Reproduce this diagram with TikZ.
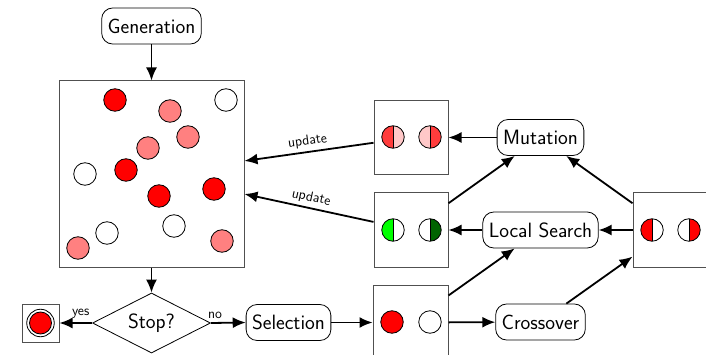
\documentclass[tikz,border=0pt]{standalone}
\usetikzlibrary{shapes.geometric,arrows.meta}
\definecolor{mred}{RGB}{255,60,60}
\definecolor{mpink}{RGB}{255,200,200}
\definecolor{ppink}{RGB}{255,128,128}
\definecolor{dgreen}{RGB}{0,100,0}
\definecolor{lgreen}{RGB}{0,255,0}
\definecolor{boxgray}{RGB}{80,80,80}
\begin{document}
\begin{tikzpicture}[x=1pt,y=-1pt,
  font=\sffamily\fontsize{20.7}{24}\selectfont,
  proc/.style={draw, rounded corners=11pt, minimum height=36pt, inner xsep=6pt, inner ysep=0pt, line width=0.8pt},
  ind/.style={circle, draw, minimum size=22.5pt, inner sep=0pt, line width=0.8pt},
  cbox/.style={draw=boxgray, minimum width=74pt, minimum height=74pt, inner sep=0pt, line width=1pt},
  arr/.style={-{Latex[length=13pt,width=11pt]}, line width=1.8pt},
  lbl/.style={font=\sffamily\fontsize{14}{16}\selectfont},
  lefthalf/.style={path picture={\fill[#1] (path picture bounding box.north west) rectangle (path picture bounding box.south);
     \draw[line width=0.8pt] (path picture bounding box.north) -- (path picture bounding box.south);}},
  righthalf/.style={path picture={\fill[#1] (path picture bounding box.north east) rectangle (path picture bounding box.south);
     \draw[line width=0.8pt] (path picture bounding box.north) -- (path picture bounding box.south);}},
  bothhalf/.style 2 args={path picture={\fill[#1] (path picture bounding box.north west) rectangle (path picture bounding box.south);
     \fill[#2] (path picture bounding box.north east) rectangle (path picture bounding box.south);
     \draw[line width=0.8pt] (path picture bounding box.north) -- (path picture bounding box.south);}}
]
\useasboundingbox (0,0) rectangle (706,355);
\clip (0,0) rectangle (706,355);

% population
\node[cbox, minimum width=185pt, minimum height=186pt] (pop) at (151.5,174) {};
\node[ind, fill=red] (p1) at (115,100) {};
\node[ind, fill=ppink] (p2) at (170,111) {};
\node[ind, fill=white] (p3) at (226,100) {};
\node[ind, fill=ppink] (p4) at (188,137) {};
\node[ind, fill=ppink] (p5) at (148,148) {};
\node[ind, fill=white] (p6) at (85,174) {};
\node[ind, fill=red] (p7) at (126,170) {};
\node[ind, fill=red] (p8) at (159,196) {};
\node[ind, fill=red] (p9) at (214,189) {};
\node[ind, fill=white] (p10) at (107,233) {};
\node[ind, fill=white] (p11) at (174,226) {};
\node[ind, fill=ppink] (p12) at (78,248) {};
\node[ind, fill=ppink] (p13) at (222,241) {};

% process nodes
\node[proc] (gen) at (151.5,26) {Generation};
\node[draw, diamond, aspect=2, minimum width=118pt, minimum height=60pt, inner sep=0pt, line width=0.8pt] (stop) at (151.5,323) {Stop?};
\node[proc] (sel) at (288.5,322.5) {Selection};
\node[proc] (mut) at (540.5,137.5) {Mutation};
\node[proc] (ls) at (540.5,230) {Local Search};
\node[proc] (cx) at (540.5,322) {Crossover};

% final result
\node[draw=boxgray, minimum width=37pt, minimum height=38pt, inner sep=0pt, line width=1pt] (fin) at (40.5,323) {};
\node[circle, draw, fill=white, minimum size=27.5pt, inner sep=0pt, line width=0.8pt] (fo) at (40.5,323) {};
\node[circle, draw, fill=red, minimum size=22pt, inner sep=0pt, line width=0.8pt] (fi) at (40.5,323) {};

% offspring boxes
\node[cbox] (mbox) at (411,137.5) {};
\node[ind, bothhalf={mred}{mpink}] (m1) at (393,137) {};
\node[ind, bothhalf={mpink}{mred}] (m2) at (430,137) {};

\node[cbox] (lbox) at (411,230) {};
\node[ind, lefthalf=lgreen] (l1) at (393,230) {};
\node[ind, righthalf=dgreen] (l2) at (430,230) {};

\node[cbox, minimum width=75pt, minimum height=75pt] (sbox) at (410.5,322.5) {};
\node[ind, fill=red] (s1) at (392,322) {};
\node[ind, fill=white] (s2) at (430,322) {};

\node[cbox] (rbox) at (670,230) {};
\node[ind, lefthalf=red] (r1) at (652,230) {};
\node[ind, righthalf=red] (r2) at (689,230) {};

% connectors
\draw[arr] (gen) -- (pop);
\draw[arr] (pop) -- (stop);
\draw[arr] (stop.west) -- node[lbl, above, pos=0.35] {yes} (fin.east);
\draw[arr] (stop.east) -- node[lbl, above, pos=0.12] {no} (sel.west);
\draw[arr] (sel) -- (sbox);
\draw[arr] (sbox) -- (cx);
\draw[arr] (sbox) -- (ls);
\draw[arr] (cx) -- (rbox);
\draw[arr] (rbox) -- (ls);
\draw[arr] (rbox) -- (mut);
\draw[arr] (lbox) -- (mut);
\draw[arr] (ls) -- (lbox);
\draw[arr] (mut) -- (mbox);
\draw[arr] (mbox) -- node[lbl, above, sloped] {update} (pop);
\draw[arr] (lbox) -- node[lbl, above, sloped] {update} (pop);
\end{tikzpicture}
\end{document}
